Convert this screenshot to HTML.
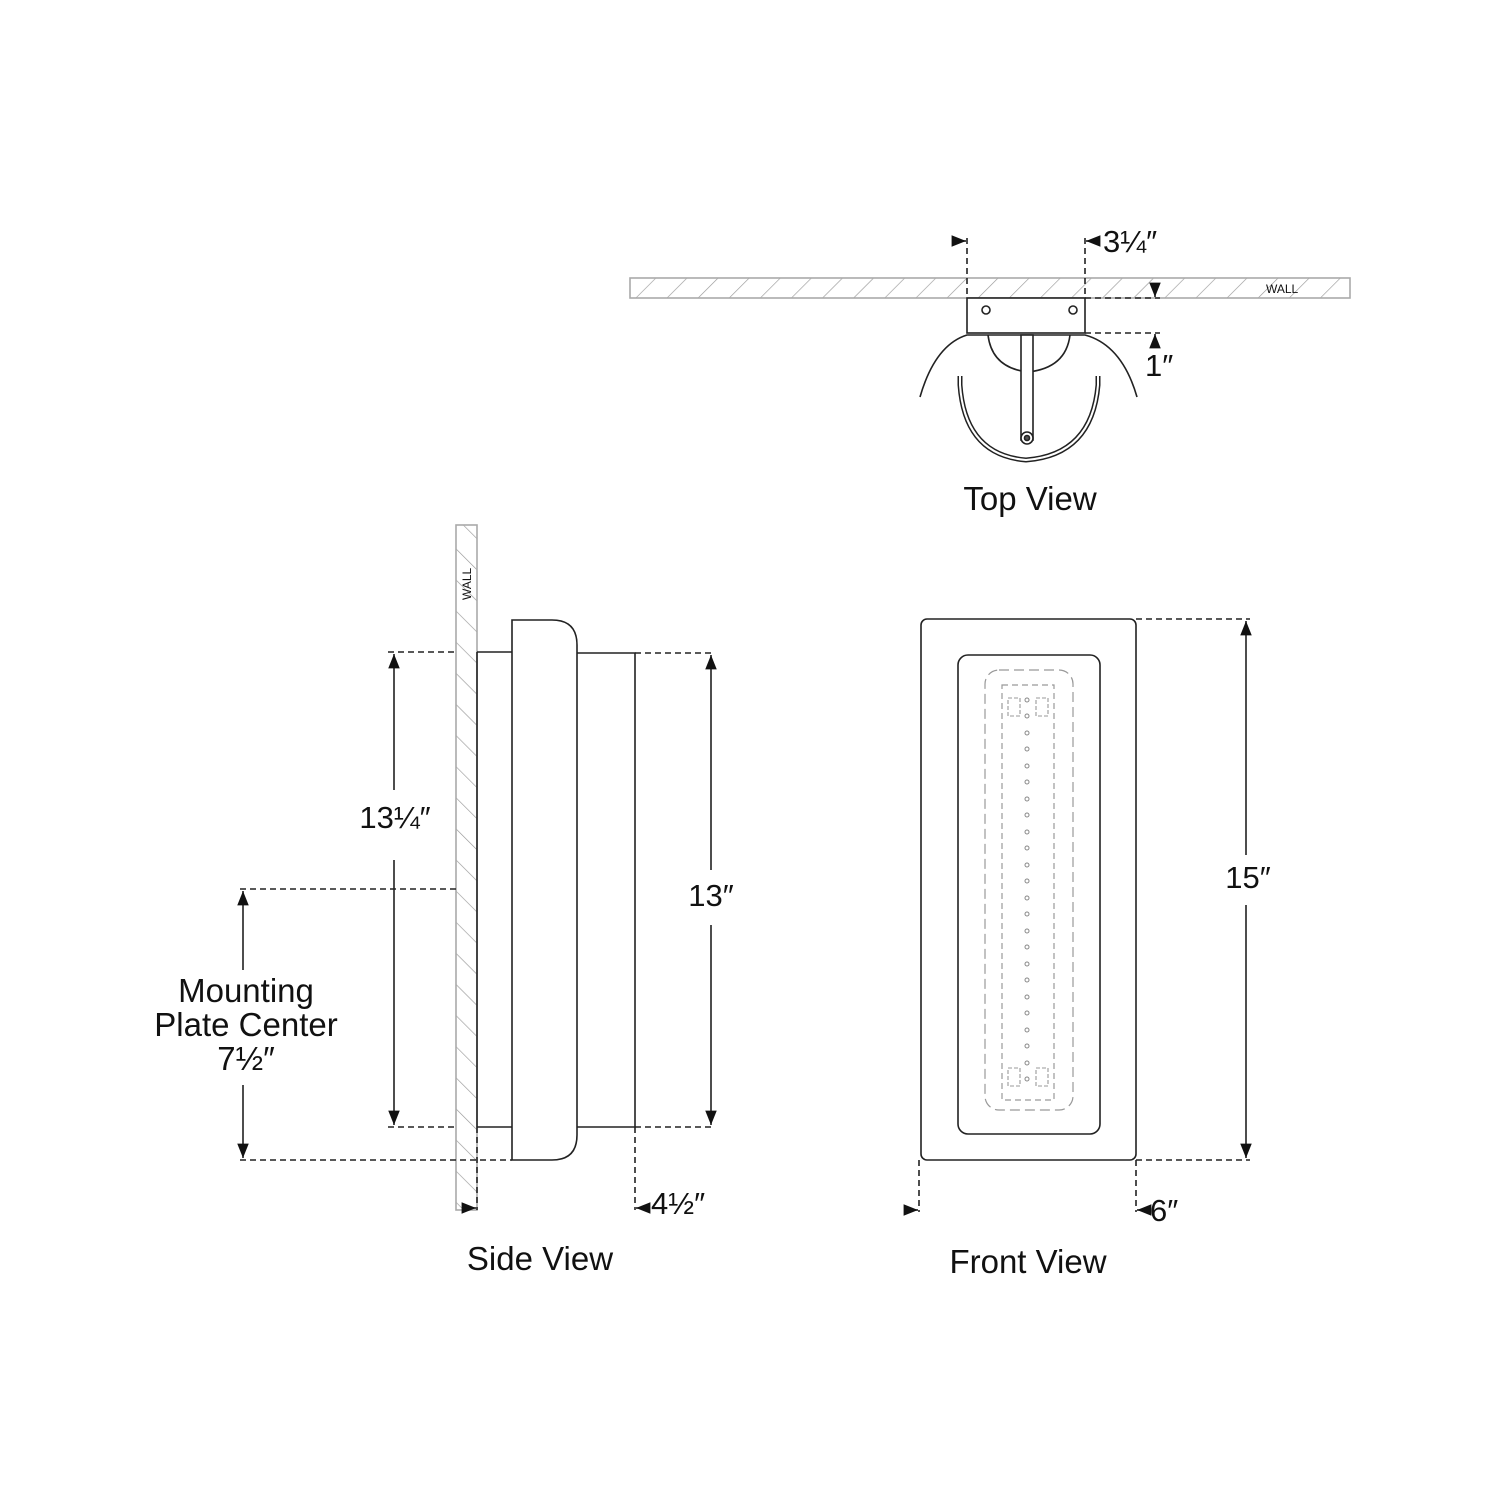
<!DOCTYPE html>
<html><head><meta charset="utf-8"><style>body{margin:0;background:#fff}svg{display:block}text{font-family:"Liberation Sans",sans-serif;fill:#111}</style></head><body>
<svg width="1500" height="1500" viewBox="0 0 1500 1500" xmlns="http://www.w3.org/2000/svg">
<defs>
<pattern id="h1" width="22" height="22" patternUnits="userSpaceOnUse" patternTransform="rotate(45)"><line x1="0" y1="0" x2="0" y2="22" stroke="#999" stroke-width="1.3"/></pattern>
<pattern id="h2" width="22" height="22" patternUnits="userSpaceOnUse" patternTransform="rotate(-45)"><line x1="0" y1="0" x2="0" y2="22" stroke="#999" stroke-width="1.3"/></pattern>
<marker id="a" viewBox="0 0 10 10" refX="10" refY="5" markerWidth="9" markerHeight="9" orient="auto-start-reverse"><path d="M0,1 L10,5 L0,9 z" fill="#111"/></marker>
</defs>
<g fill="none" stroke="#222" stroke-width="1.6">
<!-- TOP VIEW -->
<rect x="630" y="278" width="720" height="20" fill="url(#h1)" stroke="#aaa"/>
<text x="1266" y="293" font-size="12" fill="#999" stroke="none">WALL</text>
<rect x="967" y="298" width="118" height="35" fill="#fff"/>
<circle cx="986" cy="310" r="4"/><circle cx="1073" cy="310" r="4"/>
<path d="M920,397 Q935,345 967,335 L1085,335 Q1122,345 1137,397"/>
<path d="M988,335 Q992,368 1028,372 Q1066,368 1070,335"/>
<path d="M960,376 L960,385 Q965,455 1026,460 Q1092,455 1098,385 L1098,376" stroke-width="5"/>
<path d="M960,376 L960,385 Q965,455 1026,460 Q1092,455 1098,385 L1098,376" stroke="#fff" stroke-width="2"/>
<rect x="1021" y="335" width="12" height="105" fill="#fff"/>
<circle cx="1027" cy="438" r="6" fill="#fff"/><circle cx="1027" cy="438" r="2.5" fill="#555"/>
<g stroke-dasharray="6,4"><line x1="967" y1="238" x2="967" y2="298"/><line x1="1085" y1="238" x2="1085" y2="298"/><line x1="1085" y1="298" x2="1160" y2="298"/><line x1="1085" y1="333" x2="1160" y2="333"/></g>
<line x1="958" y1="241" x2="966" y2="241" marker-end="url(#a)"/>
<line x1="1094" y1="241" x2="1086" y2="241" marker-end="url(#a)"/>
<line x1="1155" y1="289" x2="1155" y2="297" marker-end="url(#a)"/>
<line x1="1155" y1="342" x2="1155" y2="334" marker-end="url(#a)"/>
<!-- SIDE VIEW -->
<rect x="456" y="525" width="21" height="685" fill="url(#h2)" stroke="#aaa"/>
<text x="0" y="0" font-size="12" fill="#999" stroke="none" transform="translate(471,600) rotate(-90)">WALL</text>
<line x1="477" y1="652" x2="477" y2="1127"/>
<line x1="477" y1="652" x2="512" y2="652"/><line x1="477" y1="1127" x2="512" y2="1127"/>
<path d="M512,620 L552,620 Q577,620 577,645 L577,1135 Q577,1160 552,1160 L512,1160 Z" fill="#fff"/>
<path d="M577,653 L635,653 L635,1127 L577,1127"/>
<g stroke-dasharray="6,4">
<line x1="388" y1="652" x2="456" y2="652"/><line x1="388" y1="1127" x2="456" y2="1127"/>
<line x1="635" y1="653" x2="715" y2="653"/><line x1="635" y1="1127" x2="715" y2="1127"/>
<line x1="240" y1="1160" x2="512" y2="1160"/><line x1="240" y1="889" x2="456" y2="889"/>
<line x1="477" y1="1127" x2="477" y2="1210"/><line x1="635" y1="1127" x2="635" y2="1210"/>
</g>
<line x1="394" y1="790" x2="394" y2="654" marker-end="url(#a)"/><line x1="394" y1="860" x2="394" y2="1125" marker-end="url(#a)"/>
<line x1="243" y1="970" x2="243" y2="891" marker-end="url(#a)"/><line x1="243" y1="1085" x2="243" y2="1158" marker-end="url(#a)"/>
<line x1="711" y1="870" x2="711" y2="655" marker-end="url(#a)"/><line x1="711" y1="925" x2="711" y2="1125" marker-end="url(#a)"/>
<line x1="467" y1="1208" x2="476" y2="1208" marker-end="url(#a)"/>
<line x1="645" y1="1208" x2="636" y2="1208" marker-end="url(#a)"/>
<!-- FRONT VIEW -->
<rect x="921" y="619" width="215" height="541" rx="6"/>
<rect x="958" y="655" width="142" height="479" rx="10"/>
<rect x="985" y="670" width="88" height="440" rx="14" stroke="#999" stroke-dasharray="10,5" stroke-width="1.2"/>
<rect x="1002" y="685" width="52" height="415" stroke="#999" stroke-dasharray="6,4" stroke-width="1.2"/>
<g stroke="#999" stroke-width="1.1">
<rect x="1008" y="698" width="12" height="18" stroke-dasharray="4,2"/><rect x="1036" y="698" width="12" height="18" stroke-dasharray="4,2"/>
<rect x="1008" y="1068" width="12" height="18" stroke-dasharray="4,2"/><rect x="1036" y="1068" width="12" height="18" stroke-dasharray="4,2"/>
</g>
<g stroke="#888" stroke-width="1">
<circle cx="1027" cy="700" r="2"/><circle cx="1027" cy="716" r="2"/><circle cx="1027" cy="733" r="2"/><circle cx="1027" cy="749" r="2"/><circle cx="1027" cy="766" r="2"/><circle cx="1027" cy="782" r="2"/><circle cx="1027" cy="799" r="2"/><circle cx="1027" cy="815" r="2"/><circle cx="1027" cy="832" r="2"/><circle cx="1027" cy="848" r="2"/><circle cx="1027" cy="865" r="2"/><circle cx="1027" cy="881" r="2"/><circle cx="1027" cy="898" r="2"/><circle cx="1027" cy="914" r="2"/><circle cx="1027" cy="931" r="2"/><circle cx="1027" cy="947" r="2"/><circle cx="1027" cy="964" r="2"/><circle cx="1027" cy="980" r="2"/><circle cx="1027" cy="997" r="2"/><circle cx="1027" cy="1013" r="2"/><circle cx="1027" cy="1030" r="2"/><circle cx="1027" cy="1046" r="2"/><circle cx="1027" cy="1063" r="2"/><circle cx="1027" cy="1079" r="2"/>
</g>
<g stroke-dasharray="6,4">
<line x1="1136" y1="619" x2="1250" y2="619"/><line x1="1136" y1="1160" x2="1250" y2="1160"/>
<line x1="919" y1="1160" x2="919" y2="1212"/><line x1="1136" y1="1160" x2="1136" y2="1212"/>
</g>
<line x1="1246" y1="855" x2="1246" y2="621" marker-end="url(#a)"/><line x1="1246" y1="905" x2="1246" y2="1158" marker-end="url(#a)"/>
<line x1="910" y1="1210" x2="918" y2="1210" marker-end="url(#a)"/>
<line x1="1146" y1="1210" x2="1137" y2="1210" marker-end="url(#a)"/>
</g>
<g font-size="31">
<text x="1103" y="252">3¼″</text>
<text x="1145" y="376">1″</text>
<text x="395" y="828" text-anchor="middle">13¼″</text>
<text x="711" y="906" text-anchor="middle">13″</text>
<text x="651" y="1214">4½″</text>
<text x="1248" y="888" text-anchor="middle">15″</text>
<text x="1150" y="1221">6″</text>
</g>
<g font-size="33" text-anchor="middle">
<text x="1030" y="510">Top View</text>
<text x="246" y="1002">Mounting</text>
<text x="246" y="1036">Plate Center</text>
<text x="246" y="1070">7½″</text>
<text x="540" y="1270">Side View</text>
<text x="1028" y="1273">Front View</text>
</g>
</svg>
</body></html>
